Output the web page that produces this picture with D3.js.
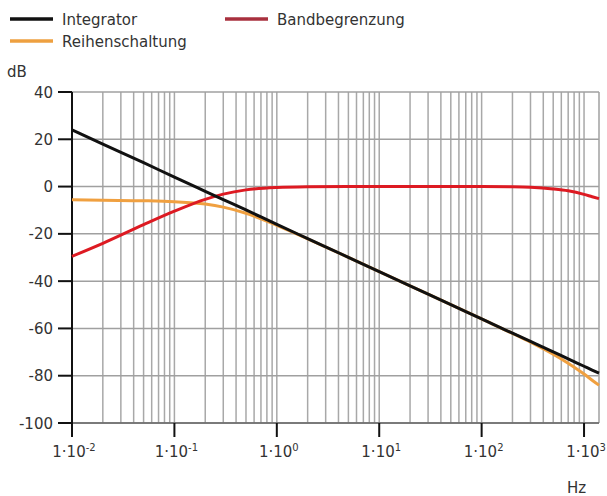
<!DOCTYPE html>
<html>
<head>
<meta charset="utf-8">
<script src="https://cdn.jsdelivr.net/npm/d3@7"></script>
<style>
  html, body { margin: 0; padding: 0; background: #fff; }
  svg { display: block; }
  text { font-family: "DejaVu Sans", sans-serif; fill: #333; }
</style>
</head>
<body>
<svg id="chart" width="607" height="496"></svg>
<script>
// Frequency points (Hz) and magnitude responses (dB)
const freqs = [0.01, 0.02, 0.05, 0.1, 0.2, 0.3, 0.5, 1, 2, 5, 10, 20, 50, 100, 200, 300, 500, 700, 1000, 1200, 1400];
const integrator = [24.0, 18.0, 10.1, 4.0, -2.0, -5.5, -9.9, -16.0, -22.0, -29.9, -36.0, -42.0, -49.9, -56.0, -62.0, -65.5, -69.9, -72.9, -76.0, -77.6, -78.9];
const bandbegrenzung = [-29.5, -24.0, -16.1, -10.4, -5.4, -3.2, -1.4, -0.4, -0.1, 0, 0, 0, 0, 0, -0.1, -0.3, -1.0, -1.8, -3.3, -4.3, -5.1];
const reihenschaltung = [-5.6, -5.8, -6.0, -6.4, -7.4, -8.7, -11.3, -16.4, -22.1, -29.9, -36.0, -42.0, -49.9, -56.0, -62.1, -65.8, -70.9, -74.7, -79.3, -81.9, -84.0];

const seriesNames = ["Integrator", "Bandbegrenzung", "Reihenschaltung"];
const yTicks = [40, 20, 0, -20, -40, -60, -80, -100];
const xDecades = [-2, -1, 0, 1, 2, 3];

const colors = { Integrator: "#111111", Bandbegrenzung: "#dd1a22", Reihenschaltung: "#f0a040" };
const legendColors = { Integrator: "#111111", Bandbegrenzung: "#a8303e", Reihenschaltung: "#eea040" };

const svg = d3.select("#chart");
const plotL = 72, plotR = 599, plotT = 92, plotB = 423;

const x = d3.scaleLog().domain([0.01, 1400]).range([plotL, plotR]);
const y = d3.scaleLinear().domain([-100, 40]).range([plotB, plotT]);

// minor + major vertical grid lines
const gridX = [];
xDecades.forEach(e => {
  for (let k = 1; k <= 9; k++) {
    const v = k * Math.pow(10, e);
    if (v > 0.01 && v <= 1400) gridX.push(v);
  }
});

const grid = svg.append("g");
grid.selectAll("line.vx").data(gridX).join("line")
  .attr("x1", d => x(d)).attr("x2", d => x(d))
  .attr("y1", plotT).attr("y2", plotB)
  .attr("stroke", "#a8a8a8").attr("stroke-width", 1.5);
grid.selectAll("line.hy").data(yTicks).join("line")
  .attr("x1", plotL).attr("x2", plotR)
  .attr("y1", d => y(d)).attr("y2", d => y(d))
  .attr("stroke", "#a0a0a0").attr("stroke-width", 1.5);
grid.append("line")
  .attr("x1", plotR).attr("x2", plotR).attr("y1", plotT).attr("y2", plotB)
  .attr("stroke", "#a0a0a0").attr("stroke-width", 1.5);
grid.append("line")
  .attr("x1", plotL).attr("x2", plotR).attr("y1", plotB).attr("y2", plotB)
  .attr("stroke", "#666").attr("stroke-width", 1.5);

// y axis
const yAxis = svg.append("g");
yAxis.append("line")
  .attr("x1", plotL).attr("x2", plotL).attr("y1", plotT).attr("y2", plotB + 14)
  .attr("stroke", "#111").attr("stroke-width", 2);
yAxis.selectAll("line.t").data(yTicks).join("line")
  .attr("x1", plotL - 14).attr("x2", plotL)
  .attr("y1", d => y(d)).attr("y2", d => y(d))
  .attr("stroke", "#111").attr("stroke-width", 2);
yAxis.selectAll("text").data(yTicks).join("text")
  .attr("x", plotL - 19).attr("y", d => y(d) + 5.5)
  .attr("text-anchor", "end").attr("font-size", 15)
  .text(d => d);

// x axis ticks at decades
const xAxis = svg.append("g");
xAxis.selectAll("line").data(xDecades).join("line")
  .attr("x1", d => x(Math.pow(10, d))).attr("x2", d => x(Math.pow(10, d)))
  .attr("y1", plotB).attr("y2", plotB + 14)
  .attr("stroke", "#111").attr("stroke-width", 2);
const xl = xAxis.selectAll("text").data(xDecades).join("text")
  .attr("x", d => x(Math.pow(10, d)) + 2).attr("y", 457)
  .attr("text-anchor", "middle").attr("font-size", 15);
xl.append("tspan").text("1·10");
xl.append("tspan").attr("font-size", 10).attr("dy", -6).text(d => d);

// unit labels
svg.append("text").attr("x", 7).attr("y", 77).attr("font-size", 15).text("dB");
svg.append("text").attr("x", 567).attr("y", 493).attr("font-size", 15).text("Hz");

// curves
const data = {
  Integrator: integrator,
  Bandbegrenzung: bandbegrenzung,
  Reihenschaltung: reihenschaltung
};
const line = d3.line()
  .x((d, i) => x(freqs[i]))
  .y(d => y(d))
  .curve(d3.curveMonotoneX);

["Reihenschaltung", "Bandbegrenzung", "Integrator"].forEach(name => {
  svg.append("path")
    .datum(data[name])
    .attr("d", line)
    .attr("fill", "none")
    .attr("stroke", colors[name])
    .attr("stroke-width", 3)
    .attr("stroke-linejoin", "round");
});

// legend
const legendPos = [
  { name: "Integrator", x: 10, y: 19 },
  { name: "Bandbegrenzung", x: 225, y: 19 },
  { name: "Reihenschaltung", x: 10, y: 41 }
];
const lg = svg.append("g");
legendPos.forEach(p => {
  lg.append("line")
    .attr("x1", p.x).attr("x2", p.x + 43)
    .attr("y1", p.y).attr("y2", p.y)
    .attr("stroke", legendColors[p.name]).attr("stroke-width", 3.5);
  lg.append("text")
    .attr("x", p.x + 52).attr("y", p.y + 6)
    .attr("font-size", 15)
    .text(p.name);
});
</script>
</body>
</html>
